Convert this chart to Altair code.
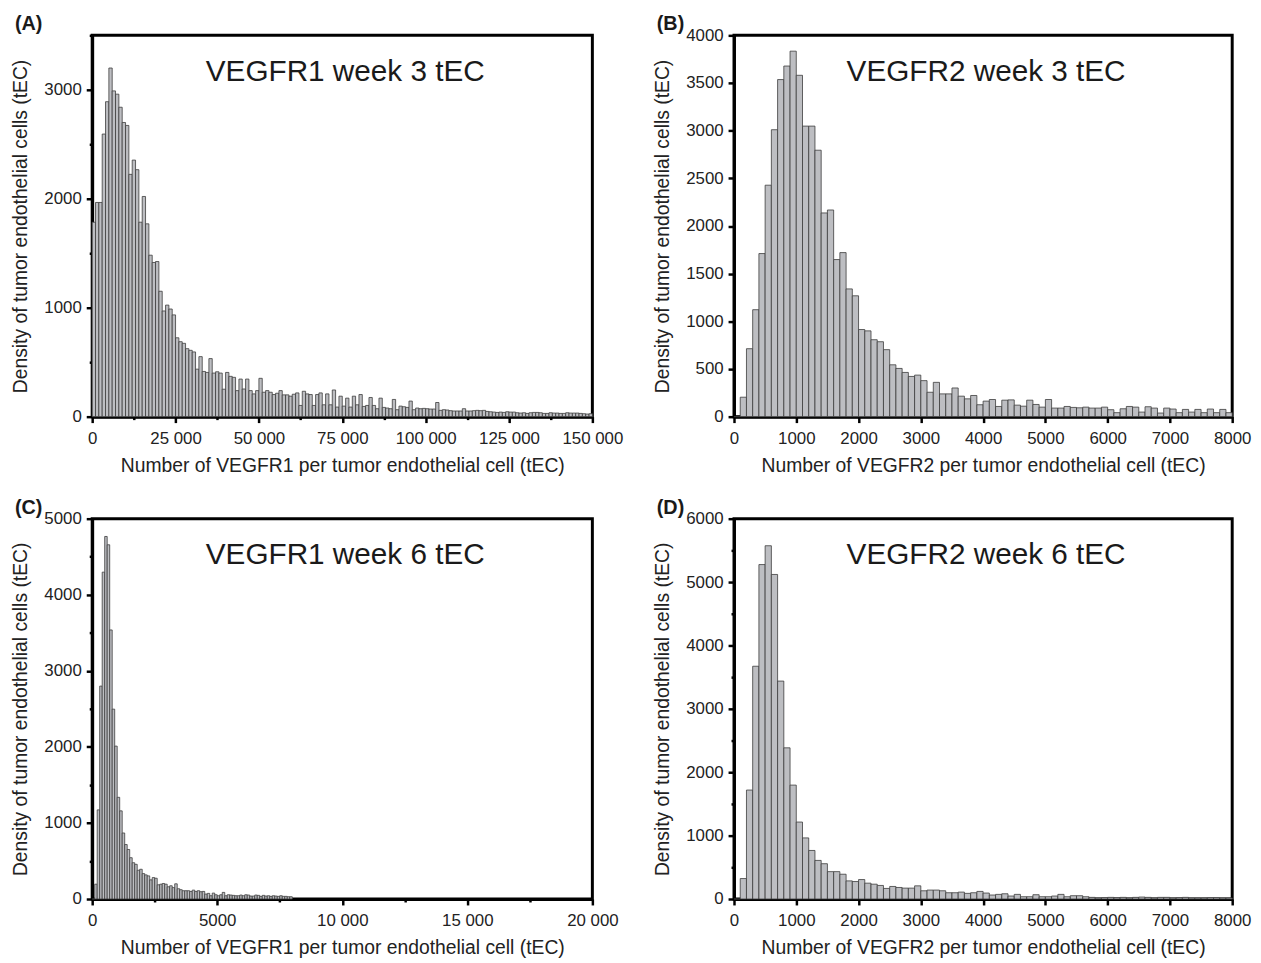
import altair as alt
import pandas as pd

# ---------------- data ----------------
A_BIN = 1000
A_counts = [1785, 1966, 1966, 2594, 2891, 3200, 2990, 2960, 2840, 2700,
            2673, 2224, 2355, 2267, 1785, 2021, 1770, 1482, 1415, 1424,
            1151, 970, 1024, 988, 934, 724, 688, 673, 624, 609,
            594, 436, 551, 415, 406, 533, 400, 412, 400, 252,
            406, 370, 361, 239, 345, 254, 345, 239, 209, 239,
            352, 224, 239, 224, 203, 215, 239, 200, 200, 188,
            206, 218, 103, 233, 209, 203, 103, 203, 218, 109,
            209, 109, 245, 88, 188, 97, 170, 88, 188, 109,
            203, 94, 103, 176, 103, 73, 170, 85, 79, 73,
            158, 64, 97, 91, 85, 143, 64, 79, 73, 76,
            73, 70, 70, 130, 58, 64, 61, 55, 52, 52,
            52, 73, 52, 52, 55, 58, 55, 58, 48, 45,
            42, 39, 42, 39, 45, 42, 42, 36, 33, 36,
            30, 36, 39, 39, 36, 30, 30, 36, 33, 33,
            30, 30, 36, 33, 33, 33, 30, 27, 24, 27]

B_BIN = 100
B_counts = [0, 204, 713, 1122, 1711, 2428, 3010, 3536, 3678, 3834,
            3581, 3048, 3048, 2795, 2137, 2168, 1648, 1721, 1340, 1268,
            914, 900, 807, 786, 703, 544, 506, 464, 422, 436,
            378, 256, 360, 239, 239, 301, 215, 187, 222, 125,
            163, 180, 107, 173, 176, 121, 110, 173, 128, 100,
            180, 90, 90, 107, 97, 93, 100, 90, 90, 100,
            73, 42, 83, 107, 100, 48, 104, 90, 38, 90,
            80, 42, 76, 48, 76, 42, 80, 42, 76, 42]

C_BIN = 100
C_counts = [0, 195, 1172, 2799, 4297, 4766, 4657, 3537, 2496, 2010,
            1337, 1159, 868, 716, 651, 543, 477, 456, 378, 391,
            334, 317, 304, 252, 282, 273, 187, 195, 204, 195,
            161, 174, 150, 200, 135, 122, 109, 109, 109, 100,
            117, 100, 109, 96, 100, 65, 74, 43, 78, 56,
            43, 56, 87, 43, 56, 52, 48, 43, 43, 52,
            43, 56, 52, 39, 39, 52, 48, 35, 48, 39,
            43, 35, 43, 39, 35, 43, 35, 35, 30, 30]

D_BIN = 100
D_counts = [0, 323, 1719, 3672, 5276, 5573, 5120, 3438, 2385, 1797,
            1214, 964, 766, 609, 557, 432, 432, 391, 286, 276,
            307, 250, 234, 214, 167, 198, 182, 172, 172, 208,
            130, 141, 141, 130, 99, 99, 109, 89, 99, 120,
            94, 63, 73, 83, 47, 73, 36, 36, 68, 36,
            36, 47, 73, 36, 52, 52, 36, 26, 16, 21,
            26, 21, 26, 16, 26, 31, 26, 16, 26, 26,
            16, 21, 26, 16, 16, 16, 21, 21, 16, 16]

FONT = "Liberation Sans"
FILL = "#bdbec2"
EDGE = "#3c3c3c"
Y_TITLE = "Density of tumor endothelial cells (tEC)"


def make_df(counts, binw):
    return pd.DataFrame({
        "x0": [i * binw for i in range(len(counts))],
        "x1": [(i + 1) * binw for i in range(len(counts))],
        "n": counts,
    })


def fmt_expr():
    return ("(datum.value >= 10000 ? replace(format(datum.value, ','), ',', ' ') "
            ": format(datum.value, 'd'))")


def panel(counts, binw, letter, label, receptor, xmax, xminor, xmajor,
          ymax, yminor, ymajor, w, h):
    df = make_df(counts, binw)
    xvals = list(range(0, xmax + 1, xminor))
    yvals = list(range(0, ymax + 1, yminor))
    xaxis = alt.Axis(
        values=xvals,
        labelExpr=f"datum.value % {xmajor} === 0 ? {fmt_expr()} : ''",
        tickSize={"condition": {"test": f"datum.value % {xmajor} === 0", "value": 6}, "value": 3},
        title=f"Number of {receptor} per tumor endothelial cell (tEC)",
        grid=False, labelOverlap=False, labelFlush=False,
    )
    yaxis = alt.Axis(
        values=yvals,
        labelExpr=f"datum.value % {ymajor} === 0 ? format(datum.value, 'd') : ''",
        tickSize={"condition": {"test": f"datum.value % {ymajor} === 0", "value": 6}, "value": 3},
        title=Y_TITLE,
        grid=False, labelOverlap=False, labelFlush=False,
    )
    bars = alt.Chart(df).mark_bar(
        fill=FILL, stroke=EDGE, strokeWidth=0.8, opacity=1
    ).encode(
        x=alt.X("x0:Q", scale=alt.Scale(domain=[0, xmax], nice=False, zero=True), axis=xaxis),
        x2="x1:Q",
        y=alt.Y("n:Q", scale=alt.Scale(domain=[0, ymax], nice=False), axis=yaxis),
        y2=alt.datum(0),
    )
    txt = alt.Chart(pd.DataFrame({"t": [label]})).mark_text(
        font=FONT, fontSize=30, color="#1a1a1a", align="center", baseline="alphabetic"
    ).encode(
        x=alt.value(w / 2 + 3), y=alt.value(46), text="t:N"
    )
    lab = alt.Chart(pd.DataFrame({"t": [letter]})).mark_text(
        font=FONT, fontSize=20, fontWeight="bold", color="#1a1a1a",
        align="left", baseline="alphabetic"
    ).encode(
        x=alt.value(-78), y=alt.value(-5), text="t:N"
    )
    return alt.layer(bars, txt, lab).properties(width=w, height=h)


pA = panel(A_counts, A_BIN, "(A)", "VEGFR1 week 3 tEC", "VEGFR1",
           150000, 12500, 25000, 3500, 500, 1000, 505, 385)
pB = panel(B_counts, B_BIN, "(B)", "VEGFR2 week 3 tEC", "VEGFR2",
           8000, 1000, 1000, 4000, 500, 500, 503, 385)
pC = panel(C_counts, C_BIN, "(C)", "VEGFR1 week 6 tEC", "VEGFR1",
           20000, 2500, 5000, 5000, 500, 1000, 505, 384)
pD = panel(D_counts, D_BIN, "(D)", "VEGFR2 week 6 tEC", "VEGFR2",
           8000, 1000, 1000, 6000, 500, 1000, 503, 384)

chart = alt.concat(pA, pB, pC, pD, columns=2).properties(
    spacing={"row": 103, "column": 143},
    bounds="flush",
    padding={"top": 0, "left": 1, "right": 0, "bottom": 0},
    background="white",
).configure_view(
    stroke="black", strokeWidth=3
).configure_axis(
    labelFont=FONT, titleFont=FONT, labelFontSize=17, titleFontSize=19.5,
    titleFontWeight="normal", labelColor="#222222", titleColor="#222222",
    domainColor="black", domainWidth=3, tickColor="black", tickWidth=2.5,
    labelPadding=5,
).configure_axisX(
    labelPadding=8, titlePadding=10
).configure_axisY(
    titlePadding=13
)

chart.save("out.html", embed_options={"renderer": "svg", "actions": False})
